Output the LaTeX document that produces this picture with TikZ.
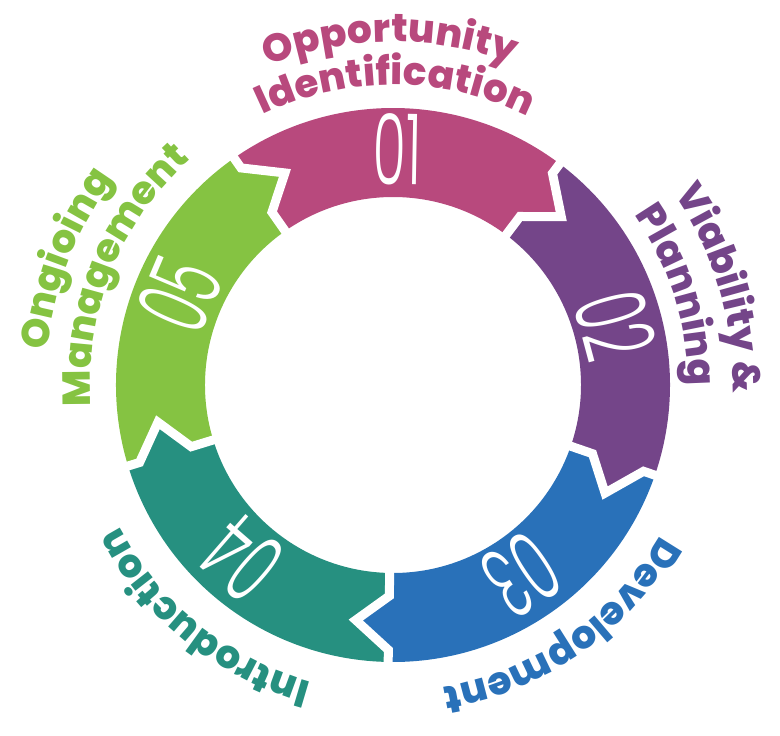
\documentclass[tikz,border=0pt]{standalone}
\usepackage{fontspec}
\usepackage{xcolor}
\usepackage{tikz}
\usetikzlibrary{decorations.text}
\newfontfamily\labelfont{Poppins}[UprightFont=* ExtraBold]
\newfontfamily\numfont{Poppins}[UprightFont=* Light]
\definecolor{StageOne}{HTML}{B8497D}
\definecolor{StageTwo}{HTML}{744589}
\definecolor{StageThree}{HTML}{2971B9}
\definecolor{StageFour}{HTML}{269080}
\definecolor{StageFive}{HTML}{85C342}

% ring piece: colour, tail angle, head angle
\newcommand{\stagearc}[3]{%
  \fill[#1] (#2:277) arc[start angle=#2, end angle=#3, radius=277]
    -- (#3:265) -- (#3-8:238) -- (#3:211) -- (#3:188)
    arc[start angle=#3, end angle=#2, radius=188]
    -- (#2:211) -- (#2-8:238) -- (#2:265) -- cycle;}
% white cut between two pieces
\newcommand{\stagegap}[1]{%
  \draw[white, line width=9] (#1:281) -- (#1:265) -- (#1-8:238) -- (#1:211) -- (#1:184);}
% curved label: colour, radius, from, to, text
\newcommand{\stagelabel}[5]{%
  \path[decorate, decoration={text along path, text align=center, text color=#1,
      text={|\labelfont\fontsize{39}{39}\selectfont|#5}}]
    (#3:#2) arc[start angle=#3, end angle=#4, radius=#2];}

\begin{document}
\begin{tikzpicture}[x=1pt, y=1pt,
    stagenum/.style={text=white, inner sep=0pt, xscale=0.55,
      font=\numfont\fontsize{98}{98}\selectfont}]
  \useasboundingbox (-393,-351) rectangle (387,385);

  \stagearc{StageOne}{125}{53}
  \stagearc{StageTwo}{53}{-19}
  \stagearc{StageThree}{-19}{-91}
  \stagearc{StageFour}{-91}{-163}
  \stagearc{StageFive}{-163}{-235}
  \stagegap{125} \stagegap{53} \stagegap{-19} \stagegap{-91} \stagegap{-163}

  \node[rotate=-1, stagenum] (num01) at (89:236) {01};
  \node[rotate=-75, stagenum] (num02) at (15:230) {02};
  \node[rotate=-146, stagenum] (num03) at (-56:229) {03};
  \node[rotate=139, stagenum] (num04) at (-131:230) {04};
  \node[rotate=67, stagenum] (num05) at (157:232) {05};

  \stagelabel{StageOne}{343}{150.5}{30.5}{Opportunity}
  \stagelabel{StageOne}{300}{149.5}{29.5}{Identification}
  \stagelabel{StageTwo}{340}{76.5}{-43.5}{Viability {\&}}
  \stagelabel{StageTwo}{295}{77.5}{-42.5}{Planning}
  \stagelabel{StageThree}{306}{5}{-115}{Development}
  \stagelabel{StageFour}{308}{-69}{-189}{Introduction}
  \stagelabel{StageFive}{347}{219}{99}{Ongioing}
  \stagelabel{StageFive}{303}{218}{98}{Management}
\end{tikzpicture}
\end{document}
